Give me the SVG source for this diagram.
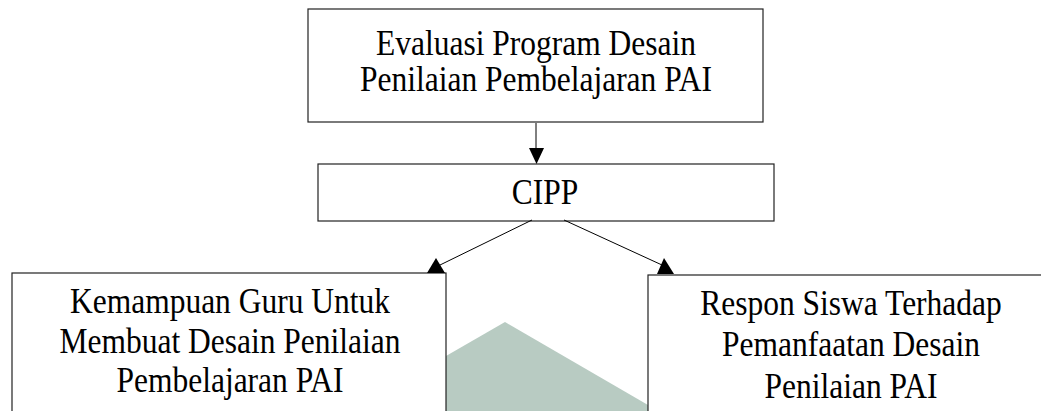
<svg xmlns="http://www.w3.org/2000/svg" width="1041" height="411" viewBox="0 0 1041 411">
<style>
.box{fill:#fff;stroke:#222;stroke-width:1.2}
.t{font-family:"Liberation Serif","Times New Roman",serif;font-size:35px;fill:#000;text-anchor:middle}
.conn line{stroke:#000;stroke-width:1}
.conn polygon{fill:#000}
</style>
<rect width="1041" height="411" fill="#fff"/>
<polygon points="446,356 505,322 648,405 648,411 446,411" fill="#b8cbc2"/>
<g id="node-evaluasi">
<rect class="box" x="308" y="9" width="455" height="113"/>
<text class="t" transform="translate(536 55) scale(0.9 1)">Evaluasi Program Desain</text>
<text class="t" transform="translate(536 91) scale(0.9 1)">Penilaian Pembelajaran PAI</text>
</g>
<g id="node-cipp">
<rect class="box" x="318" y="164" width="456" height="57"/>
<text class="t" transform="translate(545 204) scale(0.9 1)">CIPP</text>
</g>
<g id="node-guru">
<rect class="box" x="12" y="273" width="434" height="150"/>
<text class="t" transform="translate(230 313) scale(0.9 1)">Kemampuan Guru Untuk</text>
<text class="t" transform="translate(230 353) scale(0.9 1)">Membuat Desain Penilaian</text>
<text class="t" transform="translate(230 392) scale(0.9 1)">Pembelajaran PAI</text>
</g>
<g id="node-siswa">
<rect class="box" x="648" y="275" width="410" height="150"/>
<text class="t" transform="translate(851 315) scale(0.9 1)">Respon Siswa Terhadap</text>
<text class="t" transform="translate(851 356) scale(0.9 1)">Pemanfaatan Desain</text>
<text class="t" transform="translate(851 398) scale(0.9 1)">Penilaian PAI</text>
</g>
<g id="connectors" class="conn">
<line x1="536" y1="123" x2="536" y2="150"/>
<polygon points="529,148 544,148 536.5,164"/>
<line x1="532" y1="220" x2="440" y2="265"/>
<polygon points="427,273 445,273 436,258"/>
<line x1="564" y1="220" x2="662" y2="265"/>
<polygon points="657,274 674,274 664,258"/>
</g>
</svg>
